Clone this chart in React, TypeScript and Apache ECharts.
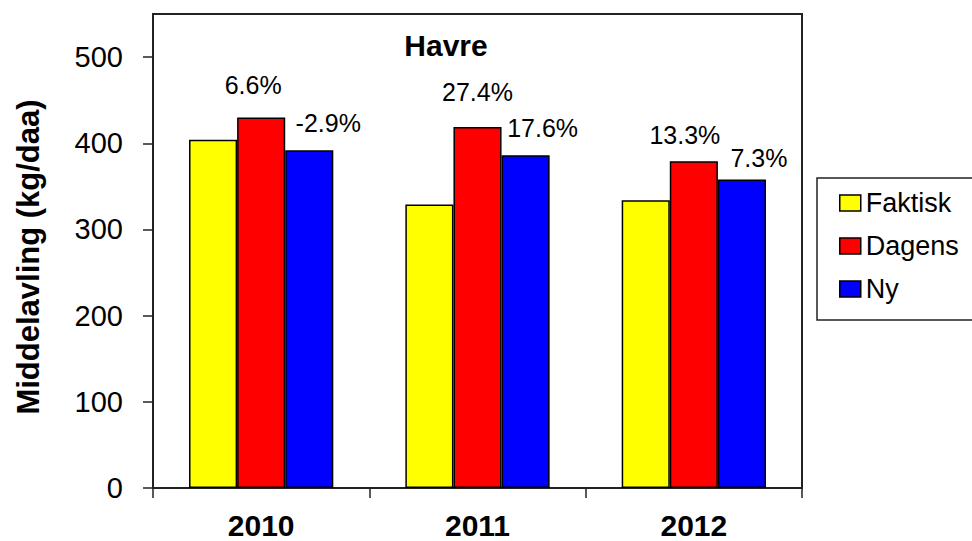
import React, { useEffect, useRef } from "react";
import * as echarts from "echarts";

// Average yields (kg/daa) per year and model
const YEARS = ["2010", "2011", "2012"];
const SERIES_NAMES = ["Faktisk", "Dagens", "Ny"];
const FAKTISK = [404, 329, 334];
const DAGENS = [430, 419, 379];
const NY = [392, 386, 358];
// Change relative to the actual yield, in percent
const DAGENS_PCT = [6.6, 27.4, 13.3];
const NY_PCT = [-2.9, 17.6, 7.3];
const Y_TICKS = [0, 100, 200, 300, 400, 500];

const FONT = "'Liberation Sans', Arial, Helvetica, sans-serif";
const COLORS = ["#FFFF00", "#FF0000", "#0000FF"];

// Hand-placed nudges for the percentage labels
const DAGENS_LABEL_SHIFT: [number, number][] = [[-8, -15], [0, -17], [-9, -9]];
const NY_LABEL_SHIFT: [number, number][] = [[19, -10], [17, -10], [17, -4]];

const pctLabel = (v: number) => `${v.toFixed(1)}%`;

function withLabels(values: number[], pcts: number[] | null, shifts: [number, number][] | null) {
  return values.map((v, i) => {
    if (!pcts || !shifts) return { value: v };
    return {
      value: v,
      label: {
        show: true,
        position: "top",
        distance: 5,
        offset: shifts[i],
        formatter: pctLabel(pcts[i]),
        color: "#000",
        fontFamily: FONT,
        fontSize: 25,
      },
    };
  });
}

export default function App() {
  const ref = useRef<HTMLDivElement>(null);

  useEffect(() => {
    if (!ref.current) return;
    const chart = echarts.init(ref.current, undefined, { renderer: "svg" });

    const barStyle = (color: string) => ({
      color,
      borderColor: "#000",
      borderWidth: 1.5,
    });

    chart.setOption({
      animation: false,
      backgroundColor: "#fff",
      grid: {
        left: 153,
        right: 170,
        top: 14,
        bottom: 53,
        show: true,
        borderColor: "#222",
        borderWidth: 2,
        backgroundColor: "transparent",
      },
      legend: {
        orient: "vertical",
        left: 839,
        top: 188,
        padding: 0,
        itemWidth: 21,
        itemHeight: 16,
        itemGap: 13,
        icon: "rect",
        z: 10,
        data: SERIES_NAMES,
        itemStyle: { borderColor: "#000", borderWidth: 1.5 },
        textStyle: { fontFamily: FONT, fontSize: 27, color: "#000", lineHeight: 30 },
      },
      graphic: [
        {
          type: "rect",
          z: 1,
          shape: { x: 817, y: 178, width: 200, height: 142 },
          style: { fill: "#fff", stroke: "#222", lineWidth: 1.5 },
        },
        {
          type: "text",
          x: 446,
          y: 45,
          style: {
            text: "Havre",
            font: `bold 30px ${FONT}`,
            fill: "#000",
            textAlign: "center",
            textVerticalAlign: "middle",
          },
        },
        {
          type: "text",
          x: 28,
          y: 257,
          rotation: Math.PI / 2,
          style: {
            text: "Middelavling (kg/daa)",
            font: `bold 31px ${FONT}`,
            fill: "#000",
            textAlign: "center",
            textVerticalAlign: "middle",
          },
        },
      ],
      xAxis: {
        type: "category",
        data: YEARS,
        axisLine: { show: true, lineStyle: { color: "#222", width: 2 } },
        axisTick: { show: true, length: 10, alignWithLabel: false, lineStyle: { color: "#222", width: 1.5 } },
        axisLabel: { fontFamily: FONT, fontSize: 30, fontWeight: "bold", color: "#000", margin: 22 },
        splitLine: { show: false },
      },
      yAxis: {
        type: "value",
        min: 0,
        max: 550,
        interval: 100,
        axisLine: { show: true, lineStyle: { color: "#222", width: 2 } },
        axisTick: { show: true, length: 10, customValues: Y_TICKS, lineStyle: { color: "#222", width: 1.5 } },
        axisLabel: {
          fontFamily: FONT,
          fontSize: 29,
          color: "#000",
          margin: 30,
          customValues: Y_TICKS,
          formatter: (v: number) => (v > 500 ? "" : String(v)),
        },
        splitLine: { show: false },
      },
      series: [
        {
          name: SERIES_NAMES[0],
          type: "bar",
          barGap: "0%",
          barCategoryGap: "33.3%",
          itemStyle: barStyle(COLORS[0]),
          data: withLabels(FAKTISK, null, null),
        },
        {
          name: SERIES_NAMES[1],
          type: "bar",
          itemStyle: barStyle(COLORS[1]),
          data: withLabels(DAGENS, DAGENS_PCT, DAGENS_LABEL_SHIFT),
        },
        {
          name: SERIES_NAMES[2],
          type: "bar",
          itemStyle: barStyle(COLORS[2]),
          data: withLabels(NY, NY_PCT, NY_LABEL_SHIFT),
        },
      ],
    });

    return () => chart.dispose();
  }, []);

  return (
    <div
      ref={ref}
      style={{ position: "fixed", left: 0, top: 0, width: 972, height: 541 }}
    />
  );
}
